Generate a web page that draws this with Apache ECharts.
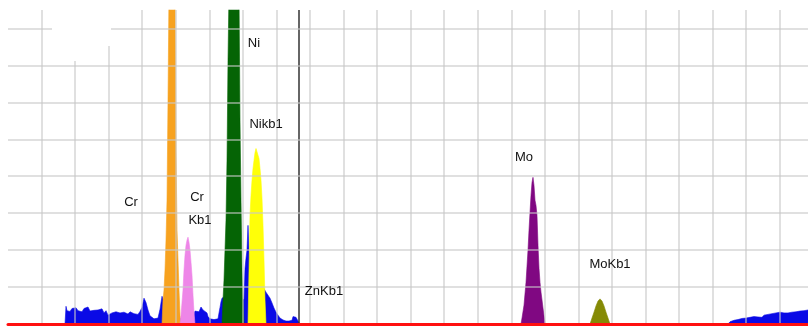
<!DOCTYPE html>
<html>
<head>
<meta charset="utf-8">
<script src="https://cdn.jsdelivr.net/npm/echarts@6/dist/echarts.min.js"></script>
<style>
  html, body { margin: 0; padding: 0; background: #fff; }
  #main { width: 808px; height: 326px; }
</style>
</head>
<body>
<div id="main"></div>
<script>
// spectrum: [channel, counts]
const bgLeft = [
  [57, 0], [58, 48], [59, 36], [60, 40], [62, 34], [64, 42], [66, 38], [68, 44], [70, 36], [72, 40],
  [74, 33], [76, 42], [78, 38], [80, 46], [82, 35], [84, 40], [86, 37], [88, 32], [90, 38], [92, 34],
  [94, 41], [96, 30], [98, 36], [100, 24], [102, 22], [104, 30], [106, 26], [108, 33], [110, 28], [112, 30],
  [114, 26], [116, 32], [118, 29], [120, 27], [122, 33], [124, 30], [126, 28], [128, 32], [130, 26], [132, 34],
  [134, 45], [136, 70], [138, 58], [140, 38], [142, 22], [144, 17], [146, 14], [148, 18], [150, 16], [152, 40],
  [154, 75], [156, 60], [160, 50], [165, 45], [170, 30], [172, 14], [176, 10], [182, 10], [185, 14], [187, 35],
  [189, 40], [191, 33], [193, 46], [195, 38], [197, 42], [199, 30], [200, 20], [202, 14], [204, 10], [206, 12],
  [208, 8], [210, 14], [211, 30], [212, 45], [213, 60], [214, 70], [220, 80], [230, 80], [236, 65], [237, 150],
  [238, 178], [239, 200], [240, 267], [241, 200], [242, 180], [245, 150], [250, 120], [255, 100], [258, 86], [260, 78],
  [262, 70], [264, 57], [266, 43], [268, 32], [270, 24], [272, 16], [275, 11], [278, 8], [281, 8], [284, 10],
  [285, 20], [287, 22], [288, 18], [290, 8], [292, 0]
];
const bgRight = [
  [720, 0], [722, 6], [724, 3], [726, 10], [728, 8], [730, 12], [732, 10], [734, 15], [736, 12], [738, 16],
  [740, 14], [742, 18], [744, 15], [746, 20], [748, 17], [750, 19], [752, 22], [754, 18], [756, 24], [758, 21],
  [760, 26], [762, 23], [764, 28], [766, 24], [768, 30], [770, 27], [772, 32], [774, 28], [776, 30], [778, 34],
  [780, 30], [782, 35], [784, 32], [786, 37], [788, 33], [790, 38], [792, 35], [794, 40], [796, 36], [798, 41],
  [800, 38]
];
const crKa = [
  [154, 0], [155, 65], [156, 92], [157, 146], [158, 227], [159, 335], [160, 605], [161, 900],
  [167, 900], [168, 470], [169, 254], [170, 173], [171, 92], [172, 24], [173, 0]
];
const crKb1 = [
  [172, 0], [173, 24], [175, 92], [176, 146], [177, 186], [178, 213], [179, 227], [180, 235],
  [181, 221], [182, 200], [183, 167], [184, 132], [185, 78], [186, 32], [187, 0]
];
const niKa = [
  [214, 0], [215, 65], [216, 119], [217, 200], [218, 281], [219, 443], [220, 713], [221, 900],
  [231, 900], [232, 551], [233, 335], [234, 146], [235, 65], [236, 0]
];
const niKb1 = [
  [240, 0], [241, 146], [242, 294], [243, 348], [244, 389], [245, 421], [246, 443], [247, 464],
  [248, 475], [249, 478], [250, 470], [251, 448], [252, 421], [253, 389], [254, 340], [255, 267],
  [256, 173], [257, 65], [258, 0]
];
const moKa = [
  [513, 0], [514, 16], [516, 51], [518, 113], [520, 200], [521, 254], [522, 302], [523, 348],
  [524, 383], [525, 397], [526, 375], [527, 335], [528, 321], [529, 294], [530, 213], [531, 151],
  [532, 113], [533, 86], [534, 65], [535, 43], [536, 22], [537, 0]
];
const moKb1 = [
  [582, 0], [584, 16], [586, 32], [588, 49], [590, 62], [592, 68], [594, 62], [596, 49],
  [598, 32], [600, 16], [602, 0]
];
const znKb1Channel = 291;

const channelMax = 800;
const channelStep = 33.55;
const countMax = 850;
const countStep = 100;

const myChart = echarts.init(document.getElementById('main'), null, { renderer: 'canvas' });

// grid drawn over the peaks, like the original software
const gridLine = { show: true, showMinLine: false, showMaxLine: false,
  lineStyle: { color: 'rgba(200,200,200,0.75)', width: 1.5 } };

let zOrder = 1;
function peak(name, data, color) {
  return {
    name: name,
    type: 'line',
    data: data,
    symbol: 'none',
    smooth: false,
    silent: true,
    lineStyle: { color: color, width: 0.6 },
    areaStyle: { color: color, opacity: 1 },
    z: zOrder++
  };
}

const labelFont = { fontFamily: 'Liberation Sans', fontSize: 13, fill: '#111' };
function tag(text, x, y) {
  return { type: 'text', x: x, y: y, zlevel: 2,
    style: Object.assign({ text: text, textAlign: 'center', textVerticalAlign: 'middle' }, labelFont) };
}

myChart.setOption({
  animation: false,
  backgroundColor: '#fff',
  grid: { left: 8, right: 0, top: 10, bottom: 2 },
  xAxis: {
    type: 'value', min: 0, max: channelMax, interval: channelStep, zlevel: 1,
    axisLine: { show: true, onZero: true, lineStyle: { color: '#ff1010', width: 3 } },
    axisTick: { show: false }, axisLabel: { show: false },
    splitLine: gridLine
  },
  yAxis: {
    type: 'value', min: 0, max: countMax, interval: countStep, zlevel: 1,
    axisLine: { show: false }, axisTick: { show: false }, axisLabel: { show: false },
    splitLine: gridLine
  },
  series: [
    peak('bg', bgLeft, '#0a0ae6'),
    peak('bg2', bgRight, '#0a0ae6'),
    peak('Cr', crKa, '#f7a21f'),
    peak('CrKb1', crKb1, '#ee86e8'),
    peak('Ni', niKa, '#056405'),
    Object.assign(peak('Nikb1', niKb1, '#ffff08'), {
      markLine: {
        silent: true, symbol: 'none', label: { show: false },
        lineStyle: { color: '#333', width: 1.5, type: 'solid' },
        data: [{ xAxis: znKb1Channel }]
      }
    }),
    peak('Mo', moKa, '#800882'),
    peak('MoKb1', moKb1, '#858a05')
  ],
  graphic: [
    { type: 'polygon', zlevel: 2, silent: true,
      shape: { points: [[52, 0], [111, 0], [111, 46], [80, 46], [80, 61], [52, 61]] },
      style: { fill: '#fff' } },
    tag('Cr', 131, 202),
    tag('Cr', 197, 197),
    tag('Kb1', 200, 220),
    tag('Ni', 254, 43),
    tag('Nikb1', 266, 124),
    tag('ZnKb1', 324, 291),
    tag('Mo', 524, 157),
    tag('MoKb1', 610, 264)
  ]
});

window.onresize = function () {
  myChart.resize();
};
</script>
</body>
</html>
